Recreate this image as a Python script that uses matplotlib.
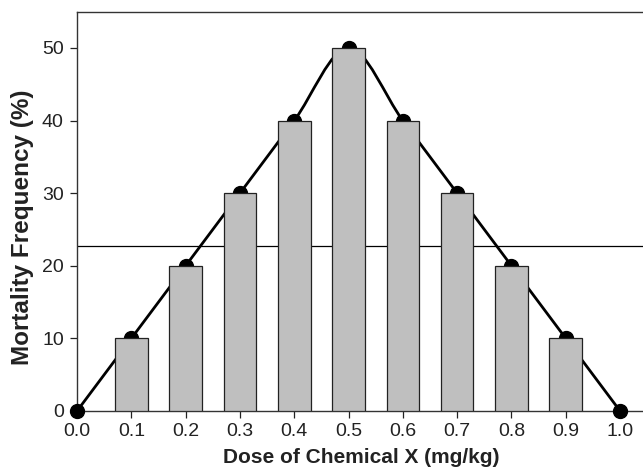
import matplotlib.pyplot as plt
import numpy as np
from matplotlib.path import Path
from matplotlib.patches import PathPatch

plt.rcParams['font.family'] = ['Liberation Sans', 'DejaVu Sans']

dose = [0.0, 0.1, 0.2, 0.3, 0.4, 0.5, 0.6, 0.7, 0.8, 0.9, 1.0]
mortality = [0, 10, 20, 30, 40, 50, 40, 30, 20, 10, 0]
bar_dose = [0.1, 0.2, 0.3, 0.4, 0.5, 0.6, 0.7, 0.8, 0.9]
bar_mortality = [10, 20, 30, 40, 50, 40, 30, 20, 10]
ref_level = 22.7
x_ticks = [0.0, 0.1, 0.2, 0.3, 0.4, 0.5, 0.6, 0.7, 0.8, 0.9, 1.0]
y_ticks = [0, 10, 20, 30, 40, 50]

fig = plt.figure(figsize=(6.43, 4.73), dpi=100)
ax = fig.add_axes([0.1198, 0.1311, 0.929, 0.8442])

# thin reference line, under everything else
ax.axhline(ref_level, color='black', lw=0.9, zorder=1)

# smooth curve through the points (Catmull-Rom as cubic bezier)
pts = np.column_stack([dose, mortality]).astype(float)
verts = [tuple(pts[0])]
codes = [Path.MOVETO]
n = len(pts)
for i in range(n - 1):
    p0 = pts[max(i - 1, 0)]
    p1 = pts[i]
    p2 = pts[i + 1]
    p3 = pts[min(i + 2, n - 1)]
    c1 = p1 + (p2 - p0) / 6
    c2 = p2 - (p3 - p1) / 6
    verts += [tuple(c1), tuple(c2), tuple(p2)]
    codes += [Path.CURVE4] * 3
ax.add_patch(PathPatch(Path(verts, codes), fc='none', ec='black', lw=2, zorder=2))
ax.plot(dose, mortality, 'o', color='black', ms=10, zorder=3, clip_on=False)

ax.bar(bar_dose, bar_mortality, width=0.06, color='#bfbfbf', edgecolor='#222222',
       lw=0.9, zorder=4)

ax.set_xlim(0, 1.1)
ax.set_ylim(0, 55)
ax.set_xticks(x_ticks)
ax.set_xticklabels(['%.1f' % t for t in x_ticks])
ax.set_yticks(y_ticks)
ax.tick_params(direction='out', length=5, width=0.9, labelsize=14,
               colors='#222222')
ax.tick_params(axis='x', pad=3.5)
ax.tick_params(axis='y', pad=4.5)
for s in ['left', 'top', 'bottom']:
    ax.spines[s].set_linewidth(1.0)
    ax.spines[s].set_color('#333333')
ax.spines['right'].set_visible(False)

ax.set_xlabel('Dose of Chemical X (mg/kg)', fontsize=15, fontweight='bold',
              color='#222222')
ax.set_ylabel('Mortality Frequency (%)', fontsize=17.5, fontweight='bold',
              color='#222222')
ax.xaxis.set_label_coords(0.476, -0.093)
ax.yaxis.set_label_coords(-0.072, 0.461)

fig.savefig('out.png', dpi=100)
